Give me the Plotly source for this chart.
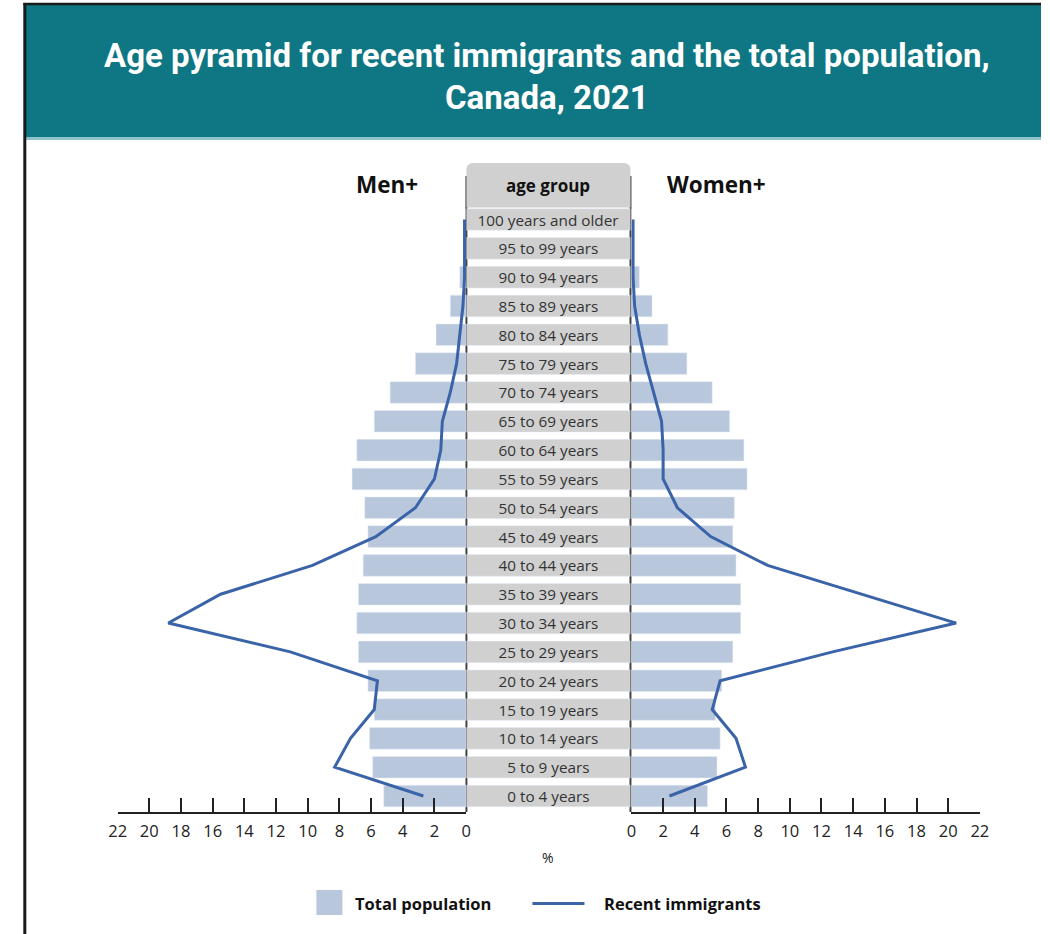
import plotly.graph_objects as go

# ---------------- data ----------------
age_groups = [
    "100 years and older", "95 to 99 years", "90 to 94 years", "85 to 89 years",
    "80 to 84 years", "75 to 79 years", "70 to 74 years", "65 to 69 years",
    "60 to 64 years", "55 to 59 years", "50 to 54 years", "45 to 49 years",
    "40 to 44 years", "35 to 39 years", "30 to 34 years", "25 to 29 years",
    "20 to 24 years", "15 to 19 years", "10 to 14 years", "5 to 9 years",
    "0 to 4 years",
]
men_total = [0.0, 0.1, 0.4, 1.0, 1.9, 3.2, 4.8, 5.8, 6.9, 7.2, 6.4,
             6.2, 6.5, 6.8, 6.9, 6.8, 6.2, 5.8, 6.1, 5.9, 5.2]
women_total = [0.0, 0.1, 0.5, 1.3, 2.3, 3.5, 5.1, 6.2, 7.1, 7.3, 6.5,
               6.4, 6.6, 6.9, 6.9, 6.4, 5.7, 5.3, 5.6, 5.4, 4.8]
men_recent = [0.1, 0.1, 0.1, 0.2, 0.4, 0.6, 1.0, 1.5, 1.6, 2.0, 3.2,
              5.7, 9.7, 15.5, 18.8, 11.1, 5.6, 5.8, 7.3, 8.3, 2.7]
women_recent = [0.1, 0.1, 0.1, 0.2, 0.5, 0.9, 1.4, 1.9, 2.0, 2.0, 2.9,
                5.0, 8.6, 14.5, 20.5, 12.7, 5.6, 5.1, 6.6, 7.2, 2.4]
tick_values = list(range(0, 23, 2))

title_line1 = "Age pyramid for recent immigrants and the total population,"
title_line2 = "Canada, 2021"

# ---------------- styles ----------------
W, H = 1050, 934
TEAL = "#0f7683"
BAR = "#b9c7dc"
LINE = "#3a63a8"
GRAY = "#d0d0d0"
AXIS = "#222222"
FONT = "Open Sans, Lato, sans-serif"
TFONT = "Roboto, sans-serif"


def px(x):
    # horizontal layout position (compensated for the capture's horizontal mapping)
    return max(0.0, min(1.0, (x - 8.7) / 0.9826 / W))


def py(y):
    return 1 - y / H


fig = go.Figure()

# left (men)
fig.add_trace(go.Bar(x=men_total, y=age_groups, orientation="h", marker_color=BAR,
                     xaxis="x", yaxis="y", name="Total population", showlegend=False))
fig.add_trace(go.Scatter(x=men_recent, y=age_groups, mode="lines",
                         line=dict(color=LINE, width=3), xaxis="x", yaxis="y",
                         name="Recent immigrants", showlegend=False))
# right (women)
fig.add_trace(go.Bar(x=women_total, y=age_groups, orientation="h", marker_color=BAR,
                     xaxis="x2", yaxis="y", showlegend=False))
fig.add_trace(go.Scatter(x=women_recent, y=age_groups, mode="lines",
                         line=dict(color=LINE, width=3), xaxis="x2", yaxis="y",
                         showlegend=False))
# centre label column
fig.add_trace(go.Bar(x=[1] * len(age_groups), y=age_groups, orientation="h",
                     marker_color=GRAY, text=age_groups, textposition="inside",
                     insidetextanchor="middle", constraintext="none",
                     textfont=dict(family=FONT, size=15.3, color="#333333"),
                     xaxis="x3", yaxis="y", showlegend=False, hoverinfo="skip"))

y_bottom_px, y_top_px = 812.3, 205.1

axis_common = dict(
    tickvals=tick_values, ticktext=[str(v) for v in tick_values],
    ticks="inside", ticklen=14, tickwidth=2, tickcolor=AXIS,
    showline=True, linecolor=AXIS, linewidth=2, showgrid=False, zeroline=False,
    tickfont=dict(family=FONT, size=16.5, color=AXIS), anchor="y",
    ticklabelstandoff=3, fixedrange=True,
)

fig.update_layout(
    width=W, height=H,
    margin=dict(l=0, r=0, t=0, b=0),
    paper_bgcolor="white", plot_bgcolor="rgba(0,0,0,0)",
    barmode="overlay", bargap=0.25,
    showlegend=False,
    xaxis=dict(domain=[px(117.3), px(465.7)], range=[22, 0], **axis_common),
    xaxis2=dict(domain=[px(631), px(979.3)], range=[0, 22], **axis_common),
    xaxis3=dict(domain=[px(466), px(630)], range=[0, 1], visible=False, anchor="y"),
    yaxis=dict(domain=[py(y_bottom_px), py(y_top_px)], range=[-0.565, 20.5],
               type="category", categoryorder="array",
               categoryarray=list(reversed(age_groups)), visible=False),
)

shapes = []
# title band
shapes.append(dict(type="rect", xref="paper", yref="paper", x0=px(25.5), x1=1,
                   y0=py(137), y1=py(4), fillcolor=TEAL, line_width=0, layer="below"))
shapes.append(dict(type="rect", xref="paper", yref="paper", x0=px(25.5), x1=1,
                   y0=py(140), y1=py(137), fillcolor="#8fc3cb", line_width=0, layer="below"))
# frame lines
shapes.append(dict(type="line", xref="paper", yref="paper", x0=px(24.5), x1=px(24.5),
                   y0=0, y1=py(3), line=dict(color="#1a1a1a", width=3)))
shapes.append(dict(type="line", xref="paper", yref="paper", x0=px(23), x1=1,
                   y0=py(4), y1=py(4), line=dict(color="#1a1a1a", width=2.5)))
# centre column edge lines (mostly hidden by bars, visible in gaps)
for xe in (466, 630):
    shapes.append(dict(type="line", xref="paper", yref="paper", x0=px(xe), x1=px(xe),
                       y0=py(812), y1=py(176), line=dict(color="#444444", width=2),
                       layer="below"))
# header box with rounded top corners
x0h, x1h, y0h, y1h, r = px(466), px(630), py(207.5), py(163), 7
rx, ry = r / W, r / H
path = (f"M {x0h},{y0h} L {x0h},{y1h - ry} Q {x0h},{y1h} {x0h + rx},{y1h} "
        f"L {x1h - rx},{y1h} Q {x1h},{y1h} {x1h},{y1h - ry} L {x1h},{y0h} Z")
shapes.append(dict(type="path", xref="paper", yref="paper", path=path,
                   fillcolor=GRAY, line_width=0))
# legend swatches
shapes.append(dict(type="rect", xref="paper", yref="paper", x0=px(316), x1=px(342),
                   y0=py(915), y1=py(890), fillcolor=BAR, line_width=0))
shapes.append(dict(type="line", xref="paper", yref="paper", x0=px(532), x1=px(584),
                   y0=py(903.5), y1=py(903.5), line=dict(color=LINE, width=3)))
fig.update_layout(shapes=shapes)

ann = []
ann.append(dict(text=f"<b>{title_line1}</b>", x=px(547), y=py(55), xref="paper", yref="paper",
                showarrow=False, font=dict(family=TFONT, size=33, color="white"),
                xanchor="center", yanchor="middle"))
ann.append(dict(text=f"<b>{title_line2}</b>", x=px(547), y=py(97), xref="paper", yref="paper",
                showarrow=False, font=dict(family=TFONT, size=33, color="white"),
                xanchor="center", yanchor="middle"))
ann.append(dict(text="<b>age group</b>", x=px(548), y=py(186), xref="paper", yref="paper",
                showarrow=False, font=dict(family=FONT, size=17, color="#111111"),
                xanchor="center", yanchor="middle"))
ann.append(dict(text="<b>Men+</b>", x=px(387), y=py(185), xref="paper", yref="paper",
                showarrow=False, font=dict(family=FONT, size=22.5, color="#111111"),
                xanchor="center", yanchor="middle"))
ann.append(dict(text="<b>Women+</b>", x=px(716), y=py(185), xref="paper", yref="paper",
                showarrow=False, font=dict(family=FONT, size=22.5, color="#111111"),
                xanchor="center", yanchor="middle"))
ann.append(dict(text="%", x=px(548), y=py(857), xref="paper", yref="paper",
                showarrow=False, font=dict(family=FONT, size=14, color="#222222"),
                xanchor="center", yanchor="middle"))
ann.append(dict(text="<b>Total population</b>", x=px(353), y=py(903), xref="paper",
                yref="paper", showarrow=False,
                font=dict(family=FONT, size=16.5, color="#111111"),
                xanchor="left", yanchor="middle"))
ann.append(dict(text="<b>Recent immigrants</b>", x=px(602), y=py(903), xref="paper",
                yref="paper", showarrow=False,
                font=dict(family=FONT, size=16.5, color="#111111"),
                xanchor="left", yanchor="middle"))
fig.update_layout(annotations=ann)

fig.write_html("out.html", config={"displayModeBar": False},
               post_script="document.body.style.margin='0';document.body.style.overflow='hidden';")
